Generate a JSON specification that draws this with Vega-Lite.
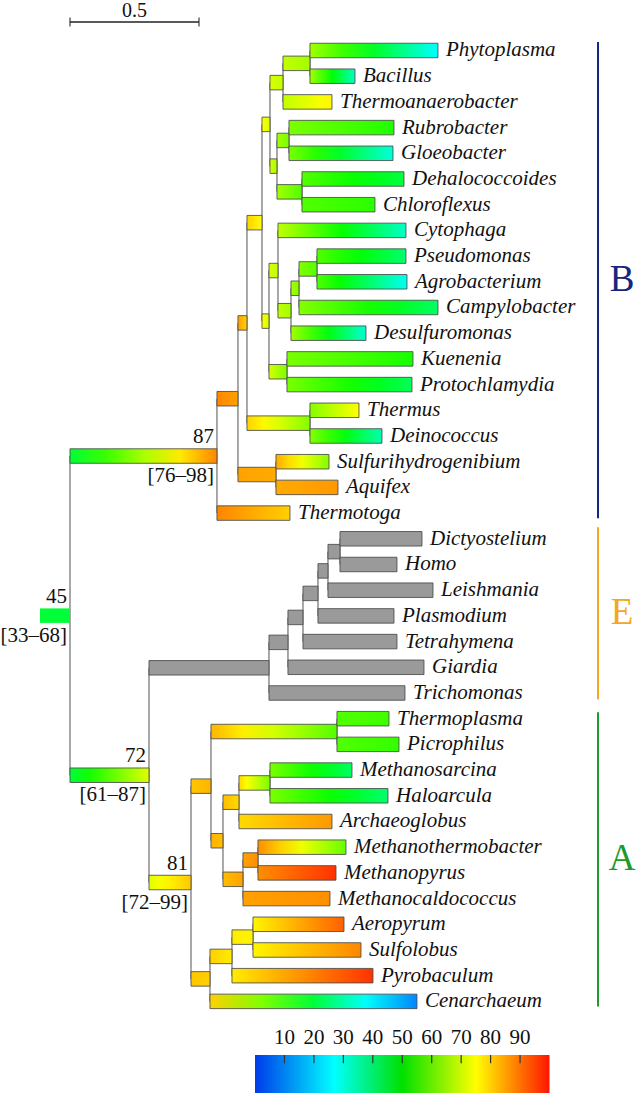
{
  "$schema": "https://vega.github.io/schema/vega-lite/v6.json",
  "width": 638,
  "height": 1093,
  "autosize": {"type": "none"},
  "padding": 0,
  "config": {"view": {"stroke": null}, "text": {"font": "Liberation Serif"}, "mark": {"font": "Liberation Serif"}, "scale": {"continuousPadding": 0}},
  "datasets": {
    "nodes": [
      {"n": "stub", "p": null, "d": 0, "y": 21.99, "t": 45},
      {"n": "root", "p": "stub", "d": 0.1163, "y": 21.99, "t": 45},
      {"n": "n87", "p": "root", "d": 0.686, "y": 15.78, "t": 88},
      {"n": "n238", "p": "n87", "d": 0.7674, "y": 13.55, "t": 85},
      {"n": "n247", "p": "n238", "d": 0.8023, "y": 10.6, "t": 80},
      {"n": "n262", "p": "n247", "d": 0.8605, "y": 6.7, "t": 75},
      {"n": "n270", "p": "n262", "d": 0.8915, "y": 2.875, "t": 71},
      {"n": "pbt", "p": "n270", "d": 0.9419, "y": 1.25, "t": 69},
      {"n": "pb", "p": "pbt", "d": 1.0465, "y": 0.5, "t": 66},
      {"n": "Phytoplasma", "p": "pb", "d": 1.5426, "y": 0, "t": 27, "leaf": true},
      {"n": "Bacillus", "p": "pb", "d": 1.2209, "y": 1, "t": 33, "leaf": true},
      {"n": "Thermoanaerobacter", "p": "pbt", "d": 1.1318, "y": 2, "t": 76, "leaf": true},
      {"n": "n277", "p": "n270", "d": 0.9186, "y": 4.5, "t": 66},
      {"n": "rg", "p": "n277", "d": 0.9651, "y": 3.5, "t": 62},
      {"n": "Rubrobacter", "p": "rg", "d": 1.3721, "y": 3, "t": 53, "leaf": true},
      {"n": "Gloeobacter", "p": "rg", "d": 1.3682, "y": 4, "t": 30, "leaf": true},
      {"n": "dc", "p": "n277", "d": 1.0155, "y": 5.5, "t": 58},
      {"n": "Dehalococcoides", "p": "dc", "d": 1.4109, "y": 5, "t": 44, "leaf": true},
      {"n": "Chloroflexus", "p": "dc", "d": 1.2984, "y": 6, "t": 54, "leaf": true},
      {"n": "n269", "p": "n262", "d": 0.8876, "y": 10.53, "t": 71},
      {"n": "n278", "p": "n269", "d": 0.9225, "y": 8.5625, "t": 69},
      {"n": "Cytophaga", "p": "n278", "d": 1.4186, "y": 7, "t": 32, "leaf": true},
      {"n": "n291", "p": "n278", "d": 0.9729, "y": 10.125, "t": 66},
      {"n": "n299", "p": "n291", "d": 1.0039, "y": 9.25, "t": 63},
      {"n": "pa", "p": "n299", "d": 1.0736, "y": 8.5, "t": 58},
      {"n": "Pseudomonas", "p": "pa", "d": 1.4186, "y": 8, "t": 40, "leaf": true},
      {"n": "Agrobacterium", "p": "pa", "d": 1.4225, "y": 9, "t": 28, "leaf": true},
      {"n": "Campylobacter", "p": "n299", "d": 1.5426, "y": 10, "t": 41, "leaf": true},
      {"n": "Desulfuromonas", "p": "n291", "d": 1.2636, "y": 11, "t": 31, "leaf": true},
      {"n": "kp", "p": "n269", "d": 0.9574, "y": 12.5, "t": 62},
      {"n": "Kuenenia", "p": "kp", "d": 1.4457, "y": 12, "t": 52, "leaf": true},
      {"n": "Protochlamydia", "p": "kp", "d": 1.4419, "y": 13, "t": 42, "leaf": true},
      {"n": "td", "p": "n247", "d": 1.0465, "y": 14.5, "t": 63},
      {"n": "Thermus", "p": "td", "d": 1.2364, "y": 14, "t": 75, "leaf": true},
      {"n": "Deinococcus", "p": "td", "d": 1.3256, "y": 15, "t": 34, "leaf": true},
      {"n": "sa", "p": "n238", "d": 0.9147, "y": 16.5, "t": 84},
      {"n": "Sulfurihydrogenibium", "p": "sa", "d": 1.1202, "y": 16, "t": 63, "leaf": true},
      {"n": "Aquifex", "p": "sa", "d": 1.155, "y": 17, "t": 86, "leaf": true},
      {"n": "Thermotoga", "p": "n87", "d": 0.969, "y": 18, "t": 80, "leaf": true},
      {"n": "n72", "p": "root", "d": 0.4225, "y": 28.2, "t": 72},
      {"n": "ne", "p": "n72", "d": 0.8876, "y": 24.02, "t": null},
      {"n": "n288", "p": "ne", "d": 0.9612, "y": 23.03, "t": null},
      {"n": "n303", "p": "n288", "d": 1.0194, "y": 22.06, "t": null},
      {"n": "n318", "p": "n303", "d": 1.0775, "y": 21.125, "t": null},
      {"n": "n328", "p": "n318", "d": 1.1163, "y": 20.25, "t": null},
      {"n": "dh", "p": "n328", "d": 1.1628, "y": 19.5, "t": null},
      {"n": "Dictyostelium", "p": "dh", "d": 1.4806, "y": 19, "t": null, "leaf": true},
      {"n": "Homo", "p": "dh", "d": 1.3837, "y": 20, "t": null, "leaf": true},
      {"n": "Leishmania", "p": "n328", "d": 1.5233, "y": 21, "t": null, "leaf": true},
      {"n": "Plasmodium", "p": "n318", "d": 1.3721, "y": 22, "t": null, "leaf": true},
      {"n": "Tetrahymena", "p": "n303", "d": 1.3837, "y": 23, "t": null, "leaf": true},
      {"n": "Giardia", "p": "n288", "d": 1.4884, "y": 24, "t": null, "leaf": true},
      {"n": "Trichomonas", "p": "ne", "d": 1.4147, "y": 25, "t": null, "leaf": true},
      {"n": "n81", "p": "n72", "d": 0.5853, "y": 32.375, "t": 81},
      {"n": "n211", "p": "n81", "d": 0.6628, "y": 28.625, "t": 83},
      {"n": "tp", "p": "n211", "d": 1.1512, "y": 26.5, "t": 58},
      {"n": "Thermoplasma", "p": "tp", "d": 1.3527, "y": 26, "t": 56, "leaf": true},
      {"n": "Picrophilus", "p": "tp", "d": 1.3915, "y": 27, "t": 55, "leaf": true},
      {"n": "n223", "p": "n211", "d": 0.7093, "y": 30.75, "t": 82},
      {"n": "n239", "p": "n223", "d": 0.7713, "y": 29.25, "t": 79},
      {"n": "mh", "p": "n239", "d": 0.8915, "y": 28.5, "t": 62},
      {"n": "Methanosarcina", "p": "mh", "d": 1.2093, "y": 28, "t": 41, "leaf": true},
      {"n": "Haloarcula", "p": "mh", "d": 1.3488, "y": 29, "t": 40, "leaf": true},
      {"n": "Archaeoglobus", "p": "n239", "d": 1.1318, "y": 30, "t": 86, "leaf": true},
      {"n": "n243", "p": "n223", "d": 0.7868, "y": 32.25, "t": 85},
      {"n": "mm", "p": "n243", "d": 0.845, "y": 31.5, "t": 87},
      {"n": "Methanothermobacter", "p": "mm", "d": 1.186, "y": 31, "t": 60, "leaf": true},
      {"n": "Methanopyrus", "p": "mm", "d": 1.1473, "y": 32, "t": 97, "leaf": true},
      {"n": "Methanocaldococcus", "p": "n243", "d": 1.124, "y": 33, "t": 87, "leaf": true},
      {"n": "n210", "p": "n81", "d": 0.6589, "y": 36.125, "t": 80},
      {"n": "n232", "p": "n210", "d": 0.7442, "y": 35.25, "t": 77},
      {"n": "as", "p": "n232", "d": 0.8256, "y": 34.5, "t": 76},
      {"n": "Aeropyrum", "p": "as", "d": 1.1783, "y": 34, "t": 92, "leaf": true},
      {"n": "Sulfolobus", "p": "as", "d": 1.2442, "y": 35, "t": 88, "leaf": true},
      {"n": "Pyrobaculum", "p": "n232", "d": 1.2907, "y": 36, "t": 97, "leaf": true},
      {"n": "Cenarchaeum", "p": "n210", "d": 1.4612, "y": 37, "t": 10, "leaf": true}
    ],
    "notes": [
      {"n": "root", "s": "45", "ci": "[33–68]"},
      {"n": "n87", "s": "87", "ci": "[76–98]"},
      {"n": "n72", "s": "72", "ci": "[61–87]"},
      {"n": "n81", "s": "81", "ci": "[72–99]"}
    ],
    "groups": [
      {"g": "B", "y0": -0.33, "y1": 18.2},
      {"g": "E", "y0": 18.55, "y1": 25.25},
      {"g": "A", "y0": 25.75, "y1": 37.2}
    ],
    "scalebar": [{"a": 0.1163, "b": 0.6163, "y": -1.109, "label": "0.5"}],
    "ticks": [{"v": 10}, {"v": 20}, {"v": 30}, {"v": 40}, {"v": 50}, {"v": 60}, {"v": 70}, {"v": 80}, {"v": 90}],
    "bar": [{"lo": 0, "hi": 100}]
  },
  "resolve": {"scale": {"x": "independent", "y": "independent", "color": "independent"}},
  "layer": [
    {
      "layer": [
        {
          "data": {"name": "nodes"},
          "transform": [
            {"filter": "datum.p != null && datum.p != 'stub'"},
            {"lookup": "p", "from": {"data": {"name": "nodes"}, "key": "n", "fields": ["d"]}, "as": ["pd"]},
            {"aggregate": [{"op": "min", "field": "y", "as": "y0"}, {"op": "max", "field": "y", "as": "y1"}], "groupby": ["p", "pd"]}
          ],
          "mark": {"type": "rule", "color": "#6e6e6e", "strokeWidth": 1.2},
          "encoding": {
            "x": {"field": "pd", "type": "quantitative", "scale": {"domain": [-0.155, 2.318], "nice": false, "zero": false, "padding": 0}, "axis": null},
            "y": {"field": "y0", "type": "quantitative", "scale": {"domain": [-1.965, 40.565], "nice": false, "zero": false, "reverse": true, "padding": 0}, "axis": null},
            "y2": {"field": "y1"}
          }
        },
        {
          "data": {"name": "nodes"},
          "transform": [
            {"filter": "datum.p != null"},
            {"lookup": "p", "from": {"data": {"name": "nodes"}, "key": "n", "fields": ["d", "t"]}, "as": ["pd", "pt"]},
            {"calculate": "datum.pt", "as": "ta"},
            {"calculate": "datum.pt + (datum.t - datum.pt) * 0.25", "as": "tb"},
            {"calculate": "datum.pt + (datum.t - datum.pt) * 0.5", "as": "tc"},
            {"calculate": "datum.pt + (datum.t - datum.pt) * 0.75", "as": "td"},
            {"calculate": "datum.t", "as": "te"},
            {"calculate": "'hsl(' + (datum.ta < 27 ? 225 - 45 * datum.ta / 27 : datum.ta < 50 ? 180 - 60 * (datum.ta - 27) / 23 : datum.ta < 75 ? 120 - 60 * (datum.ta - 50) / 25 : 60 - 55 * (datum.ta - 75) / 25) + ',100%,50%)'", "as": "ca"},
            {"calculate": "'hsl(' + (datum.tb < 27 ? 225 - 45 * datum.tb / 27 : datum.tb < 50 ? 180 - 60 * (datum.tb - 27) / 23 : datum.tb < 75 ? 120 - 60 * (datum.tb - 50) / 25 : 60 - 55 * (datum.tb - 75) / 25) + ',100%,50%)'", "as": "cb"},
            {"calculate": "'hsl(' + (datum.tc < 27 ? 225 - 45 * datum.tc / 27 : datum.tc < 50 ? 180 - 60 * (datum.tc - 27) / 23 : datum.tc < 75 ? 120 - 60 * (datum.tc - 50) / 25 : 60 - 55 * (datum.tc - 75) / 25) + ',100%,50%)'", "as": "cc"},
            {"calculate": "'hsl(' + (datum.td < 27 ? 225 - 45 * datum.td / 27 : datum.td < 50 ? 180 - 60 * (datum.td - 27) / 23 : datum.td < 75 ? 120 - 60 * (datum.td - 50) / 25 : 60 - 55 * (datum.td - 75) / 25) + ',100%,50%)'", "as": "cd"},
            {"calculate": "'hsl(' + (datum.te < 27 ? 225 - 45 * datum.te / 27 : datum.te < 50 ? 180 - 60 * (datum.te - 27) / 23 : datum.te < 75 ? 120 - 60 * (datum.te - 50) / 25 : 60 - 55 * (datum.te - 75) / 25) + ',100%,50%)'", "as": "ce"},
            {"calculate": "datum.t == null ? '#9a9a9a' : {'gradient': 'linear', 'stops': [{'offset': 0, 'color': datum.ca}, {'offset': 0.25, 'color': datum.cb}, {'offset': 0.5, 'color': datum.cc}, {'offset': 0.75, 'color': datum.cd}, {'offset': 1, 'color': datum.ce}]}", "as": "grad"},
            {"calculate": "datum.p == 'stub' ? 0 : 0.85", "as": "so"}
          ],
          "mark": {"type": "bar", "orient": "horizontal", "size": 14.5, "stroke": "#4a4a4a", "strokeWidth": 1},
          "encoding": {
            "x": {"field": "pd", "type": "quantitative", "scale": {"domain": [-0.155, 2.318], "nice": false, "zero": false, "padding": 0}, "axis": null},
            "x2": {"field": "d"},
            "y": {"field": "y", "type": "quantitative", "scale": {"domain": [-1.965, 40.565], "nice": false, "zero": false, "reverse": true, "padding": 0}, "axis": null},
            "color": {"field": "grad", "type": "nominal", "scale": null},
            "strokeOpacity": {"field": "so", "type": "quantitative", "scale": null}
          }
        },
        {
          "data": {"name": "nodes"},
          "transform": [{"filter": "datum.leaf"}],
          "mark": {"type": "text", "font": "Liberation Serif", "align": "left", "baseline": "middle", "dx": 8, "fontSize": 21, "fontStyle": "italic", "color": "#111111"},
          "encoding": {
            "x": {"field": "d", "type": "quantitative", "scale": {"domain": [-0.155, 2.318], "nice": false, "zero": false, "padding": 0}, "axis": null},
            "y": {"field": "y", "type": "quantitative", "scale": {"domain": [-1.965, 40.565], "nice": false, "zero": false, "reverse": true, "padding": 0}, "axis": null},
            "text": {"field": "n"}
          }
        },
        {
          "data": {"name": "notes"},
          "transform": [{"lookup": "n", "from": {"data": {"name": "nodes"}, "key": "n", "fields": ["d", "y"]}}],
          "mark": {"type": "text", "font": "Liberation Serif", "align": "right", "baseline": "middle", "dx": -3, "dy": -19, "fontSize": 21, "color": "#111111"},
          "encoding": {
            "x": {"field": "d", "type": "quantitative", "scale": {"domain": [-0.155, 2.318], "nice": false, "zero": false, "padding": 0}, "axis": null},
            "y": {"field": "y", "type": "quantitative", "scale": {"domain": [-1.965, 40.565], "nice": false, "zero": false, "reverse": true, "padding": 0}, "axis": null},
            "text": {"field": "s"}
          }
        },
        {
          "data": {"name": "notes"},
          "transform": [{"lookup": "n", "from": {"data": {"name": "nodes"}, "key": "n", "fields": ["d", "y"]}}],
          "mark": {"type": "text", "font": "Liberation Serif", "align": "right", "baseline": "middle", "dx": -3, "dy": 20, "fontSize": 21, "color": "#111111"},
          "encoding": {
            "x": {"field": "d", "type": "quantitative", "scale": {"domain": [-0.155, 2.318], "nice": false, "zero": false, "padding": 0}, "axis": null},
            "y": {"field": "y", "type": "quantitative", "scale": {"domain": [-1.965, 40.565], "nice": false, "zero": false, "reverse": true, "padding": 0}, "axis": null},
            "text": {"field": "ci"}
          }
        },
        {
          "data": {"name": "scalebar"},
          "mark": {"type": "rule", "color": "#222222", "strokeWidth": 1.5},
          "encoding": {
            "x": {"field": "a", "type": "quantitative", "scale": {"domain": [-0.155, 2.318], "nice": false, "zero": false, "padding": 0}, "axis": null},
            "x2": {"field": "b"},
            "y": {"field": "y", "type": "quantitative", "scale": {"domain": [-1.965, 40.565], "nice": false, "zero": false, "reverse": true, "padding": 0}, "axis": null}
          }
        },
        {
          "data": {"name": "scalebar"},
          "mark": {"type": "tick", "orient": "vertical", "size": 9, "thickness": 1.5, "color": "#222222"},
          "encoding": {
            "x": {"field": "a", "type": "quantitative", "scale": {"domain": [-0.155, 2.318], "nice": false, "zero": false, "padding": 0}, "axis": null},
            "y": {"field": "y", "type": "quantitative", "scale": {"domain": [-1.965, 40.565], "nice": false, "zero": false, "reverse": true, "padding": 0}, "axis": null}
          }
        },
        {
          "data": {"name": "scalebar"},
          "mark": {"type": "tick", "orient": "vertical", "size": 9, "thickness": 1.5, "color": "#222222"},
          "encoding": {
            "x": {"field": "b", "type": "quantitative", "scale": {"domain": [-0.155, 2.318], "nice": false, "zero": false, "padding": 0}, "axis": null},
            "y": {"field": "y", "type": "quantitative", "scale": {"domain": [-1.965, 40.565], "nice": false, "zero": false, "reverse": true, "padding": 0}, "axis": null}
          }
        },
        {
          "data": {"name": "scalebar"},
          "transform": [{"calculate": "(datum.a + datum.b) / 2", "as": "m"}],
          "mark": {"type": "text", "font": "Liberation Serif", "align": "center", "baseline": "middle", "dy": -11, "fontSize": 20, "color": "#111111"},
          "encoding": {
            "x": {"field": "m", "type": "quantitative", "scale": {"domain": [-0.155, 2.318], "nice": false, "zero": false, "padding": 0}, "axis": null},
            "y": {"field": "y", "type": "quantitative", "scale": {"domain": [-1.965, 40.565], "nice": false, "zero": false, "reverse": true, "padding": 0}, "axis": null},
            "text": {"field": "label"}
          }
        },
        {
          "data": {"name": "groups"},
          "mark": {"type": "rule", "strokeWidth": 2},
          "encoding": {
            "x": {"datum": 2.163, "type": "quantitative", "scale": {"domain": [-0.155, 2.318], "nice": false, "zero": false, "padding": 0}, "axis": null},
            "y": {"field": "y0", "type": "quantitative", "scale": {"domain": [-1.965, 40.565], "nice": false, "zero": false, "reverse": true, "padding": 0}, "axis": null},
            "y2": {"field": "y1"},
            "color": {"field": "g", "type": "nominal", "scale": {"domain": ["B", "E", "A"], "range": ["#16267e", "#f5a623", "#1e9a2a"]}, "legend": null}
          }
        },
        {
          "data": {"name": "groups"},
          "transform": [{"calculate": "(datum.y0 + datum.y1) / 2", "as": "ym"}],
          "mark": {"type": "text", "font": "Liberation Serif", "align": "center", "baseline": "middle", "dx": 24, "fontSize": 37},
          "encoding": {
            "x": {"datum": 2.163, "type": "quantitative", "scale": {"domain": [-0.155, 2.318], "nice": false, "zero": false, "padding": 0}, "axis": null},
            "y": {"field": "ym", "type": "quantitative", "scale": {"domain": [-1.965, 40.565], "nice": false, "zero": false, "reverse": true, "padding": 0}, "axis": null},
            "text": {"field": "g"},
            "color": {"field": "g", "type": "nominal", "scale": {"domain": ["B", "E", "A"], "range": ["#16267e", "#f5a623", "#1e9a2a"]}, "legend": null}
          }
        }
      ]
    },
    {
      "layer": [
        {
          "data": {"name": "bar"},
          "mark": {"type": "rect", "color": {"gradient": "linear", "stops": [{"offset": 0, "color": "hsl(225,100%,46%)"}, {"offset": 0.27, "color": "hsl(180,100%,50%)"}, {"offset": 0.5, "color": "hsl(120,100%,44%)"}, {"offset": 0.75, "color": "hsl(60,100%,50%)"}, {"offset": 1, "color": "hsl(5,100%,50%)"}]}},
          "encoding": {
            "x": {"field": "lo", "type": "quantitative", "scale": {"domain": [0, 100], "range": [255, 549.5], "nice": false, "zero": false, "padding": 0}, "axis": null},
            "x2": {"field": "hi"},
            "y": {"datum": 0, "type": "quantitative", "scale": {"domain": [0, 1], "range": [1055, 1093], "nice": false, "zero": false, "padding": 0}, "axis": null},
            "y2": {"datum": 1}
          }
        },
        {
          "data": {"name": "ticks"},
          "mark": {"type": "rule", "color": "#333333", "strokeWidth": 1.2},
          "encoding": {
            "x": {"field": "v", "type": "quantitative", "scale": {"domain": [0, 100], "range": [255, 549.5], "nice": false, "zero": false, "padding": 0}, "axis": null},
            "y": {"datum": 0, "type": "quantitative", "scale": {"domain": [0, 1], "range": [1055, 1093], "nice": false, "zero": false, "padding": 0}, "axis": null},
            "y2": {"datum": 0.22}
          }
        },
        {
          "data": {"name": "ticks"},
          "mark": {"type": "text", "font": "Liberation Serif", "align": "center", "baseline": "middle", "dy": -17, "fontSize": 21, "color": "#111111"},
          "encoding": {
            "x": {"field": "v", "type": "quantitative", "scale": {"domain": [0, 100], "range": [255, 549.5], "nice": false, "zero": false, "padding": 0}, "axis": null},
            "y": {"datum": 0, "type": "quantitative", "scale": {"domain": [0, 1], "range": [1055, 1093], "nice": false, "zero": false, "padding": 0}, "axis": null},
            "text": {"field": "v"}
          }
        }
      ]
    }
  ]
}
